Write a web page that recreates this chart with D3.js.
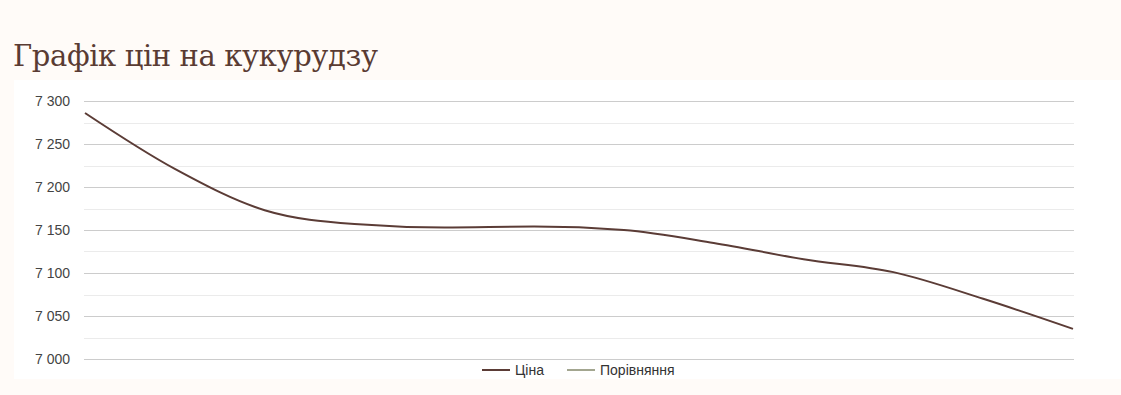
<!DOCTYPE html>
<html>
<head>
<meta charset="utf-8">
<script src="https://cdn.jsdelivr.net/npm/d3@7"></script>
<style>
  html, body { margin: 0; padding: 0; background: #fffbf8; }
  #chart { width: 1121px; height: 395px; }
</style>
</head>
<body>
<div id="chart"></div>
<script>
// Графік цін на кукурудзу
const points = ["1", "2", "3", "4", "5", "6", "7", "8", "9", "10", "11", "12"];
const price = [7286, 7221, 7173, 7157, 7153, 7154, 7150, 7135, 7116, 7101, 7070, 7035];
const yTicks = [7000, 7050, 7100, 7150, 7200, 7250, 7300];
const legendItems = ["Ціна", "Порівняння"];

(() => {
    const W = 1121, H = 395;
    const svg = d3.select("#chart").append("svg").attr("width", W).attr("height", H);

    svg.append("rect").attr("width", W).attr("height", H).attr("fill", "#fffbf8");
    // white chart panel
    svg.append("rect").attr("x", 14).attr("y", 80).attr("width", W - 14).attr("height", 299).attr("fill", "#fff");

    svg.append("text")
        .attr("x", 13).attr("y", 66)
        .attr("font-family", "'DejaVu Serif', serif")
        .attr("font-size", 29)
        .attr("fill", "#5a3b33")
        .attr("textLength", 365)
        .text("Графік цін на кукурудзу");

    const x = d3.scalePoint().domain(points).range([85, 1073]);
    const y = d3.scaleLinear().domain([7000, 7300]).range([359, 101]);

    // minor gridlines
    const minor = d3.range(7025, 7300, 50);
    svg.append("g").selectAll("line").data(minor).join("line")
        .attr("x1", 84).attr("x2", 1074)
        .attr("y1", d => Math.round(y(d)) + 0.5).attr("y2", d => Math.round(y(d)) + 0.5)
        .attr("stroke", "#ebebeb");

    const yAxis = svg.append("g").attr("transform", "translate(84,0)")
        .call(d3.axisLeft(y).tickValues(yTicks).tickSize(-990)
            .tickFormat(d => d3.format(",")(d).replace(",", " ")));
    yAxis.select(".domain").remove();
    yAxis.selectAll(".tick line").attr("stroke", "#cccccc");
    yAxis.selectAll(".tick text")
        .attr("x", -14)
        .attr("font-family", "'Liberation Sans', Arial, sans-serif")
        .attr("font-size", 14)
        .attr("fill", "#444");

    const line = d3.line()
        .x((d, i) => x(points[i]))
        .y(d => y(d))
        .curve(d3.curveMonotoneX);

    svg.append("path").datum(price)
        .attr("d", line)
        .attr("fill", "none")
        .attr("stroke", "#5b3c36")
        .attr("stroke-width", 2);

    // Legend
    const colors = ["#5b3c36", "#a3a690"];
    const offsets = [482, 567];
    const legend = svg.append("g").attr("transform", "translate(0,370)");
    legend.selectAll("g").data(legendItems).join("g")
        .attr("transform", (d, i) => `translate(${offsets[i]},0)`)
        .call(g => {
            g.append("line").attr("x1", 0).attr("x2", 28).attr("stroke", (d, i) => colors[i]).attr("stroke-width", 2);
            g.append("text").attr("x", 33).attr("y", 5)
                .attr("font-family", "'Liberation Sans', Arial, sans-serif")
                .attr("font-size", 14)
                .attr("fill", "#333")
                .text(d => d);
        });
})();
</script>
</body>
</html>
